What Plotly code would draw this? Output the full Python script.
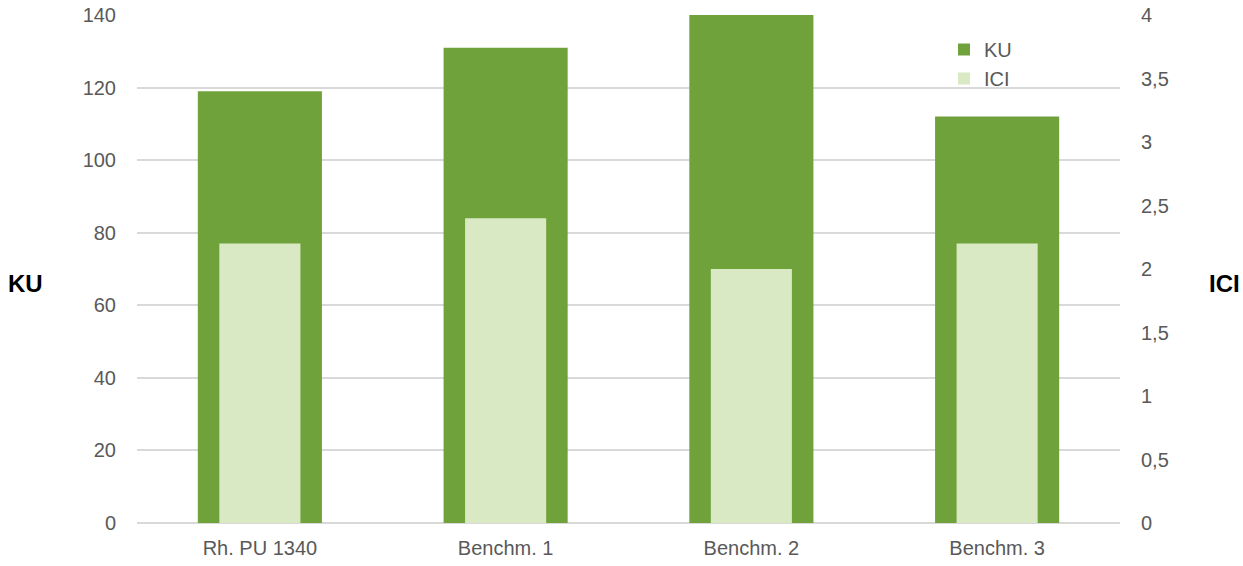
import plotly.graph_objects as go

categories = ["Rh. PU 1340", "Benchm. 1", "Benchm. 2", "Benchm. 3"]
ku_values = [119, 131, 140, 112]
ici_values = [2.2, 2.4, 2.0, 2.2]
left_ticks = [0, 20, 40, 60, 80, 100, 120, 140]
right_ticks = [0, 0.5, 1, 1.5, 2, 2.5, 3, 3.5, 4]

KU_COLOR = "#70A23C"
ICI_COLOR = "#D8E9C4"
GRID = "#D9D9D9"
TXT = "#595959"
FONT = "Liberation Sans, Arial, sans-serif"

W, H = 1243, 566
ML, MR, MT, MB = 137, W - 1120, 15, H - 523
pw = W - ML - MR
ph = H - MT - MB


def px_to_paper(x, y):
    return (x - ML) / pw, (H - MB - y) / ph


fig = go.Figure()
fig.add_trace(go.Bar(x=categories, y=ku_values, name="KU", marker=dict(color=KU_COLOR, line=dict(width=0)),
                     width=0.505, yaxis="y"))
fig.add_trace(go.Bar(x=categories, y=ici_values, name="ICI", marker=dict(color=ICI_COLOR, line=dict(width=0)),
                     width=0.33, yaxis="y2"))

kx, ky = px_to_paper(25, 283)
ix, iy = px_to_paper(1224, 283)
lx, ly = px_to_paper(944, 30)

fig.update_layout(
    width=W, height=H,
    autosize=False,
    margin=dict(l=ML, r=MR, t=MT, b=MB, autoexpand=False),
    plot_bgcolor="white", paper_bgcolor="white",
    barmode="overlay",
    separators=",.",
    font=dict(family=FONT, color=TXT, size=20),
    showlegend=True,
    legend=dict(x=lx, y=ly, xanchor="left", yanchor="top", bgcolor="rgba(0,0,0,0)",
                font=dict(size=20, color=TXT), itemwidth=30, tracegroupgap=0),
    xaxis=dict(showgrid=False, showline=False, zeroline=False, ticks="", ticklabelstandoff=11,
               automargin=False, tickfont=dict(size=20, color=TXT)),
    yaxis=dict(range=[0, 140], tickvals=left_ticks, showgrid=True, gridcolor=GRID, gridwidth=1.5,
               zeroline=True, zerolinecolor=GRID, zerolinewidth=1.5, showline=False, ticks="",
               automargin=False, ticklabelstandoff=20, tickfont=dict(size=20, color=TXT)),
    yaxis2=dict(range=[0, 4], tickvals=right_ticks, overlaying="y", side="right", showgrid=False,
                zeroline=False, showline=False, ticks="", ticklabelstandoff=20, automargin=False,
                tickfont=dict(size=20, color=TXT)),
    annotations=[
        dict(text="<b>KU</b>", x=kx, y=ky, xref="paper", yref="paper", showarrow=False,
             font=dict(size=24, color="black"), xanchor="center", yanchor="middle"),
        dict(text="<b>ICI</b>", x=ix, y=iy, xref="paper", yref="paper", showarrow=False,
             font=dict(size=24, color="black"), xanchor="center", yanchor="middle"),
    ],
)

fig.write_html("out.html", config={"displayModeBar": False},
               post_script="document.body.style.margin='0';document.body.style.overflow='hidden';")
